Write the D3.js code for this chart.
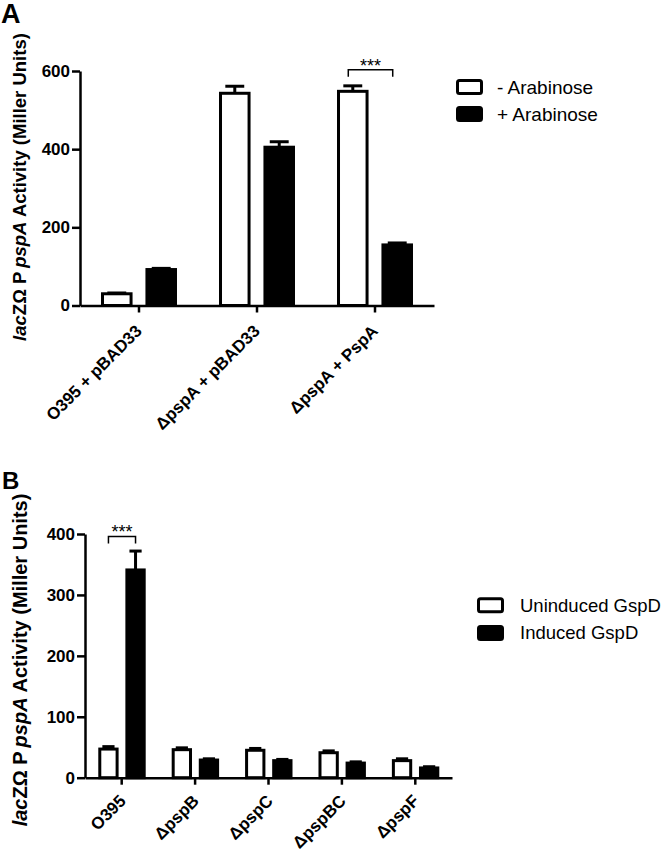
<!DOCTYPE html>
<html>
<head>
<meta charset="utf-8">
<script src="https://cdn.jsdelivr.net/npm/d3@7"></script>
<style>
  html, body { margin: 0; padding: 0; background: #fff; }
  svg { display: block; }
  text { font-family: "Liberation Sans", Arial, sans-serif; fill: #000; }
</style>
</head>
<body>
<script>
// ---------- Data ----------
// Panel A
const catsA = ["O395 + pBAD33", "\u0394pspA + pBAD33", "\u0394pspA + PspA"];
const seriesA = ["- Arabinose", "+ Arabinose"];
const minusAra = [30, 543, 548];
const minusAraErr = [2, 18, 14];
const plusAra = [92, 405, 155];
const plusAraErr = [3, 14, 5];
const ticksA = [0, 200, 400, 600];
const sigA = { cat: "\u0394pspA + PspA", level: 603, label: "***" };

// Panel B
const catsB = ["O395", "\u0394pspB", "\u0394pspC", "\u0394pspBC", "\u0394pspF"];
const seriesB = ["Uninduced GspD", "Induced GspD"];
const uninduced = [47, 46, 45, 41, 28];
const uninducedErr = [4, 3, 3, 3, 3];
const induced = [341, 29, 28, 24, 16];
const inducedErr = [31, 2, 2, 2, 2];
const ticksB = [0, 100, 200, 300, 400];
const sigB = { cat: "O395", level: 396, label: "***" };

const fills = ["#ffffff", "#000000"];

// ---------- Drawing ----------
const svg = d3.select("body").append("svg").attr("width", 666).attr("height", 854);

function drawPanel(o) {
  const g = svg.append("g");
  const x0 = d3.scaleBand().domain(o.cats).range(o.xRange).padding(0);
  const bw = x0.bandwidth();
  const x1 = d3.scaleBand().domain(o.series)
    .range([bw * o.groupFrac[0], bw * o.groupFrac[1]]).paddingInner(o.innerPad);
  const y = d3.scaleLinear().domain([0, o.ticks[o.ticks.length - 1]]).range(o.yRange);
  const sw = 3;

  const rows = o.cats.map((c, i) => ({
    cat: c,
    vals: o.series.map((s, k) => ({ s, k, v: o.values[k][i], e: o.errors[k][i] }))
  }));

  const grp = g.selectAll("g.grp").data(rows).join("g")
    .attr("class", "grp")
    .attr("transform", d => `translate(${x0(d.cat)},0)`);

  // error bars (upper only)
  grp.selectAll("g.err").data(d => d.vals).join("g").attr("class", "err").each(function (d) {
    const cx = x1(d.s) + x1.bandwidth() / 2;
    const capW = x1.bandwidth() * 0.6;
    const e = d3.select(this);
    e.append("line").attr("x1", cx).attr("x2", cx)
      .attr("y1", y(d.v)).attr("y2", y(d.v + d.e))
      .attr("stroke", "#000").attr("stroke-width", sw);
    e.append("line").attr("x1", cx - capW / 2).attr("x2", cx + capW / 2)
      .attr("y1", y(d.v + d.e)).attr("y2", y(d.v + d.e))
      .attr("stroke", "#000").attr("stroke-width", sw);
  });

  grp.selectAll("rect").data(d => d.vals).join("rect")
    .attr("x", d => x1(d.s) + sw / 2)
    .attr("width", x1.bandwidth() - sw)
    .attr("y", d => y(d.v))
    .attr("height", d => y(0) - y(d.v))
    .attr("fill", d => fills[d.k])
    .attr("stroke", "#000").attr("stroke-width", sw);

  // y axis
  const ya = g.append("g").attr("transform", `translate(${o.xRange[0]},0)`)
    .call(d3.axisLeft(y).tickValues(o.ticks).tickSize(8).tickSizeOuter(0).tickPadding(2).tickFormat(d3.format("d")));
  ya.select(".domain").attr("stroke-width", 2.5);
  ya.selectAll(".tick line").attr("stroke-width", 2.5);
  ya.selectAll(".tick text").attr("font-size", 17).attr("font-weight", "bold")
    .attr("font-family", "'Liberation Sans', Arial, sans-serif");

  // x axis (ticks only)
  const xa = g.append("g").attr("transform", `translate(0,${y(0)})`)
    .call(d3.axisBottom(x0).tickSize(7).tickSizeOuter(0).tickFormat(""));
  xa.select(".domain").attr("stroke-width", 2.5);
  xa.selectAll(".tick line").attr("stroke-width", 2.5);
  xa.selectAll(".tick text").remove();

  // rotated category labels
  o.cats.forEach(c => {
    const px = Math.round(x0(c) + bw / 2 + o.lblDx);
    const py = Math.round(y(0) + o.lblDy);
    svg.append("text")
      .attr("transform", "translate(" + px + "," + py + ") rotate(-45)")
      .attr("text-anchor", "end")
      .attr("font-size", 17).attr("font-weight", "bold")
      .text(c);
  });

  // y title
  const t = g.append("text")
    .attr("transform", `translate(${o.titleX},${o.titleY}) rotate(-90)`)
    .attr("text-anchor", "middle").attr("font-size", o.titleSize).attr("font-weight", "bold");
  t.append("tspan").attr("font-style", "italic").text("lac");
  t.append("tspan").text("Z\u03A9 P\u2009");
  t.append("tspan").attr("font-style", "italic").text("pspA");
  t.append("tspan").text(" Activity (Miller Units)");

  // significance bracket
  const sx1 = x0(o.sig.cat) + x1(o.series[0]) + x1.bandwidth() / 2 + o.sigShift;
  const sx2 = x0(o.sig.cat) + x1(o.series[1]) + x1.bandwidth() / 2 + o.sigShift;
  const sy = y(o.sig.level);
  g.append("path").attr("d", `M${sx1},${sy + 7}V${sy}H${sx2}V${sy + 7}`)
    .attr("fill", "none").attr("stroke", "#000").attr("stroke-width", 1.5);
  g.append("text").attr("x", (sx1 + sx2) / 2).attr("y", sy + 2)
    .attr("text-anchor", "middle").attr("font-size", 18).text(o.sig.label);

  // legend
  const lg = g.append("g");
  o.series.forEach((s, k) => {
    const ly = o.legY + k * o.legStep;
    lg.append("rect").attr("x", o.legX + 1.5).attr("y", ly - 6.5)
      .attr("width", 24).attr("height", 13).attr("rx", 2)
      .attr("fill", fills[k]).attr("stroke", "#000").attr("stroke-width", 3);
    lg.append("text").attr("x", o.legX + o.legTextDx).attr("y", ly)
      .attr("dy", "0.35em").attr("font-size", o.legSize).text(s);
  });

  // panel letter
  g.append("text").attr("x", o.letterX).attr("y", o.letterY)
    .attr("font-size", o.letterSize).attr("font-weight", "bold").text(o.letter);
}

drawPanel({
  cats: catsA, series: seriesA, values: [minusAra, plusAra], errors: [minusAraErr, plusAraErr],
  ticks: ticksA, xRange: [80, 434], yRange: [305.5, 71],
  groupFrac: [0.178, 0.822], innerPad: 0.29,
  lblDx: 3.5, lblDy: 26.5,
  titleX: 26, titleY: 187, titleSize: 18.5,
  sig: sigA, sigShift: -4.5,
  legX: 456, legY: 87, legStep: 27, legTextDx: 41, legSize: 19,
  letter: "A", letterX: 1, letterY: 23, letterSize: 27
});

drawPanel({
  cats: catsB, series: seriesB, values: [uninduced, induced], errors: [uninducedErr, inducedErr],
  ticks: ticksB, xRange: [85, 452], yRange: [777.7, 534],
  groupFrac: [0.181, 0.827], innerPad: 0.25,
  lblDx: 5, lblDy: 24,
  titleX: 27, titleY: 660, titleSize: 20,
  sig: sigB, sigShift: 0,
  legX: 477, legY: 605.3, legStep: 27.7, legTextDx: 43, legSize: 18.5,
  letter: "B", letterX: 2, letterY: 489, letterSize: 24
});
</script>
</body>
</html>
